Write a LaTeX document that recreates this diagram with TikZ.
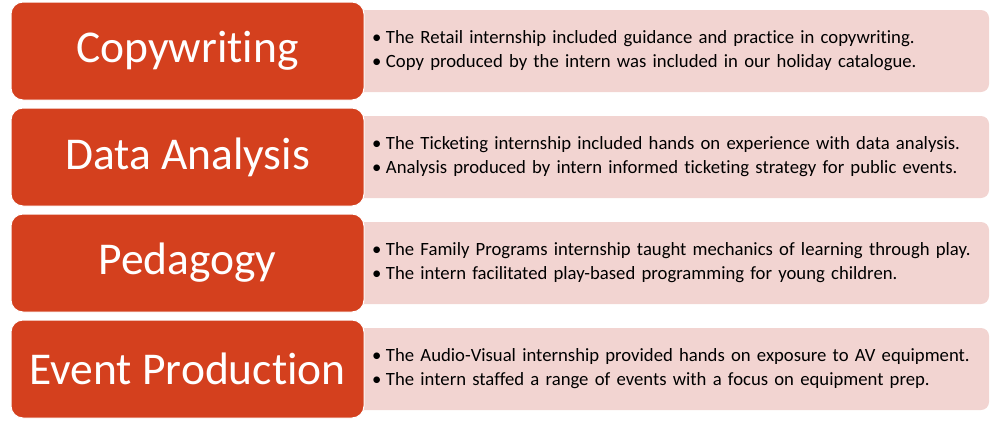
\documentclass[tikz,border=0pt]{standalone}
\usepackage{fontspec}
\setmainfont{Carlito}[RawFeature=-liga]
\usepackage{tikz}
\definecolor{titleorange}{RGB}{212,64,30}
\definecolor{notepink}{RGB}{242,212,209}

\tikzset{
  title/.style={draw=white, line width=1pt, fill=titleorange, text=white,
    rounded corners=12pt, minimum width=353pt, minimum height=98pt,
    inner sep=0pt, font=\fontsize{45.5}{50}\selectfont},
  notes/.style={fill=notepink, rounded corners=8pt, minimum width=634pt,
    minimum height=82pt, inner xsep=17pt, inner ysep=0pt, text width=600pt,
    align=left, font=\fontsize{18.7}{24}\selectfont}
}
\newcommand{\itm}{\makebox[14pt][l]{\textbullet}}

\begin{document}
\begin{tikzpicture}[x=1pt,y=-1pt]
      \useasboundingbox (0,0) rectangle (999,423);

      % detail boxes go behind the titles
      \node[notes] (copytxt) at (672,51)
        {\itm The Retail internship included guidance and practice in copywriting.\\
         \itm Copy produced by the intern was included in our holiday catalogue.};
      \node[notes] (datatxt) at (672,157)
        {\itm The Ticketing internship included hands on experience with data analysis.\\
         \itm Analysis produced by intern informed ticketing strategy for public events.};
      \node[notes] (pedtxt) at (672,263)
        {\itm The Family Programs internship taught mechanics of learning through play.\\
         \itm The intern facilitated play-based programming for young children.};
      \node[notes] (eventtxt) at (672,369)
        {\itm The Audio-Visual internship provided hands on exposure to AV equipment.\\
         \itm The intern staffed a range of events with a focus on equipment prep.};

      \node[title] (copy) at (187.5,51) {Copywriting};
      \node[title] (data) at (187.5,157) {Data Analysis};
      \node[title] (ped) at (187.5,263) {Pedagogy};
      \node[title] (event) at (187.5,369) {Event Production};
    \end{tikzpicture}
\end{document}
